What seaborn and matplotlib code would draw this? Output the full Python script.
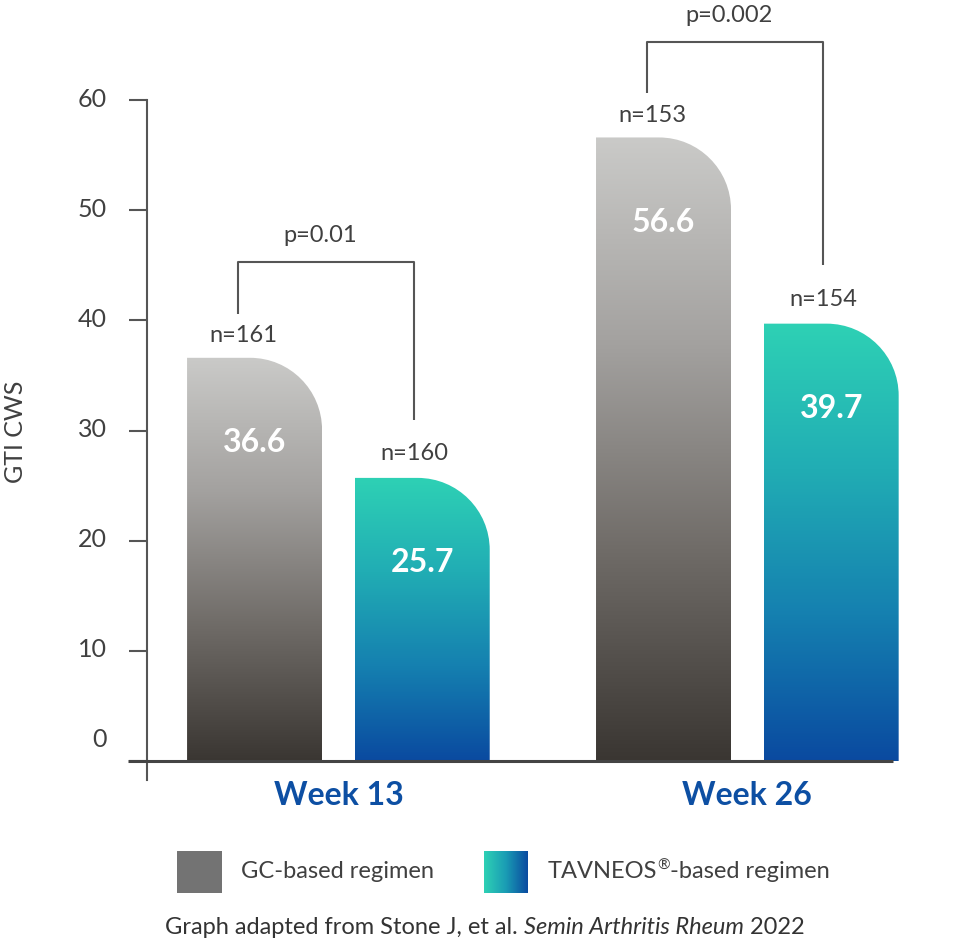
import numpy as np
import pandas as pd
import matplotlib
matplotlib.use("Agg")
import matplotlib.pyplot as plt
import matplotlib.transforms as mtransforms
import seaborn as sns
from matplotlib.path import Path
from matplotlib.patches import PathPatch, Rectangle
from matplotlib.colors import LinearSegmentedColormap

# ---------------- data ----------------
weeks = ["Week 13", "Week 26"]
regimens = ["GC-based regimen", "TAVNEOS®-based regimen"]
gc_values = [36.6, 56.6]
tav_values = [25.7, 39.7]
gc_n = ["n=161", "n=153"]
tav_n = ["n=160", "n=154"]
p_labels = ["p=0.01", "p=0.002"]
yticks = [0, 10, 20, 30, 40, 50, 60]
ytick_labels = ["0", "10", "20", "30", "40", "50", "60"]
y_label = "GTI CWS"
footer_parts = ["Graph adapted from Stone J, et al. ", "Semin Arthritis Rheum", " 2022"]

df = pd.DataFrame({
    "week": weeks + weeks,
    "regimen": [regimens[0]] * len(weeks) + [regimens[1]] * len(weeks),
    "value": gc_values + tav_values,
})

# ---------------- style ----------------
sns.set_theme(style="white")
FONT = ["Lato", "DejaVu Sans"]
plt.rcParams["font.family"] = FONT
TXT = "#404040"
AX = "#555555"
BLUE = "#0d4fa3"

W, H = 972, 944
fig = plt.figure(figsize=(W / 100, H / 100), dpi=100)
ax = fig.add_axes([147 / W, 1 - 780 / H, (960 - 147) / W, 680 / H])

sns.barplot(data=df, x="week", y="value", hue="regimen", order=weeks,
            hue_order=regimens, width=0.82, gap=0.195, ax=ax, legend=False,
            palette=["#888888", "#22aabb"], saturation=1)

XLIM = (-0.468, 1.52)
YLIM = (-1.72, 60)
ax.set_xlim(*XLIM)
ax.set_ylim(*YLIM)

# pixel scale
p0 = ax.transData.transform((0, 0))
px_x = ax.transData.transform((1, 0))[0] - p0[0]
px_y = ax.transData.transform((0, 1))[1] - p0[1]
R = 72  # corner radius in px
rx, ry = R / px_x, R / px_y
k = 0.5523

gc_cmap = LinearSegmentedColormap.from_list("gc", ["#3a3632", "#6f6b67", "#a3a19f", "#cacac8"])
tav_cmap = LinearSegmentedColormap.from_list("tav", ["#0a4aa0", "#1580b0", "#21adb4", "#2ed1b5"])
grad = np.linspace(0, 1, 256).reshape(-1, 1)

centers = {}
for ci, (cont, cmap) in enumerate(zip(ax.containers, [gc_cmap, tav_cmap])):
    for bi, rect in enumerate(cont.patches):
        x0 = rect.get_x()
        w = rect.get_width()
        x1 = x0 + w
        y0 = rect.get_y()
        top = y0 + rect.get_height()
        rect.set_visible(False)
        verts = [(x0, y0), (x0, top), (x1 - rx, top),
                 (x1 - rx + k * rx, top), (x1, top - ry + k * ry), (x1, top - ry),
                 (x1, y0), (x0, y0)]
        codes = [Path.MOVETO, Path.LINETO, Path.LINETO,
                 Path.CURVE4, Path.CURVE4, Path.CURVE4,
                 Path.LINETO, Path.CLOSEPOLY]
        patch = PathPatch(Path(verts, codes), facecolor="none", edgecolor="none")
        ax.add_patch(patch)
        im = ax.imshow(grad, extent=[x0, x1, y0, top], origin="lower",
                       aspect="auto", cmap=cmap, zorder=2, interpolation="bicubic")
        im.set_clip_path(patch)
        centers[(ci, bi)] = (x0 + w / 2, top)

ax.set_xlim(*XLIM)
ax.set_ylim(*YLIM)

# value labels, n labels, brackets
for bi in range(len(weeks)):
    gx, gtop = centers[(0, bi)]
    tx, ttop = centers[(1, bi)]
    for (cx, ctop), val in [((gx, gtop), gc_values[bi]), ((tx, ttop), tav_values[bi])]:
        ax.text(cx, ctop - 7.7, f"{val:.1f}", ha="center", va="center",
                color="white", fontsize=23, fontweight="bold", zorder=5)
    ax.text(gx - 0.028, gtop + 2.0, gc_n[bi], ha="center", va="center",
            color=TXT, fontsize=17, zorder=5, clip_on=False)
    ax.text(tx - 0.02, ttop + 2.2, tav_n[bi], ha="center", va="center",
            color=TXT, fontsize=17, zorder=5, clip_on=False)
    lx = gx - 0.04
    rxp = tx - 0.02
    btop = gtop + 8.7
    ax.plot([lx, lx, rxp, rxp], [gtop + 4.0, btop, btop, ttop + 5.3],
            color=AX, lw=1.5, clip_on=False, zorder=4, solid_capstyle="butt")
    ax.text((lx + rxp) / 2 - 0.015, btop + 2.4, p_labels[bi], ha="center",
            va="center", color=TXT, fontsize=17, clip_on=False)

# axes styling
for s in ["top", "right", "bottom"]:
    ax.spines[s].set_visible(False)
ax.spines["left"].set_color(AX)
ax.spines["left"].set_linewidth(1.5)
x_lo = XLIM[0] - 19 / px_x
x_hi = 1 + (893 - 747.5) / px_x
ax.plot([x_lo, x_hi], [0, 0], color="#444444", lw=2.2, clip_on=False, zorder=6,
        solid_capstyle="butt")

ax.set_yticks(yticks)
ax.set_yticklabels(ytick_labels)
ax.tick_params(axis="y", direction="out", length=13, width=1.5, color=AX,
               pad=16, labelsize=18, labelcolor=TXT, left=True)
ax.tick_params(axis="x", length=0, pad=1, labelsize=23, labelcolor=BLUE)
for lbl in ax.get_xticklabels():
    lbl.set_fontweight("bold")
for lbl in ax.get_yticklabels():
    lbl.set_transform(lbl.get_transform() + mtransforms.ScaledTranslation(0, 3 / 100, fig.dpi_scale_trans))
    if lbl.get_text() == "0":
        lbl.set_transform(lbl.get_transform() + mtransforms.ScaledTranslation(0, 21 / 100, fig.dpi_scale_trans))
ax.set_xlabel("")
ax.set_ylabel(y_label, fontsize=18, color=TXT)
ax.yaxis.set_label_coords((16 - 147) / 813, (780 - 432) / 680)
ax.yaxis.label.set_va("center")

renderer = fig.canvas.get_renderer()

# legend (manual)
lax1 = fig.add_axes([177 / W, 1 - 893 / H, 45 / W, 42 / H])
lax1.add_patch(Rectangle((0, 0), 1, 1, color="#737373"))
lax1.set_axis_off()
lax2 = fig.add_axes([484 / W, 1 - 893 / H, 44 / W, 42 / H])
lax2.imshow(np.linspace(0, 1, 256).reshape(1, -1), cmap=LinearSegmentedColormap.from_list(
    "lg", ["#2ed1b5", "#1a9cb4", "#0a4aa0"]), aspect="auto", extent=[0, 1, 0, 1])
lax2.set_axis_off()
fig.text(241 / W, 1 - 872 / H, regimens[0], ha="left", va="center", fontsize=17, color=TXT)

# second legend label with superscript ®
pre, post = regimens[1].split("®")
x = 548
for part, fs, dy in [(pre, 17, 0), ("®", 11, 6), (post, 17, 0)]:
    t = fig.text(x / W, 1 - (872 - dy) / H, part, ha="left", va="center",
                 fontsize=fs, color=TXT)
    x += t.get_window_extent(renderer).width

# footer with italic part
styles = ["normal", "italic", "normal"]
texts = []
x = 163
for part, st in zip(footer_parts, styles):
    t = fig.text(x / W, 1 - 927 / H, part, ha="left", va="center", fontsize=17,
                 color="#333333", style=st)
    bb = t.get_window_extent(renderer)
    x += bb.width
    texts.append(t)
total = x - 163
shift = (485 - (163 + total / 2))
for t in texts:
    px, py = t.get_position()
    t.set_position((px + shift / W, py))

fig.savefig("out.png", dpi=100)
